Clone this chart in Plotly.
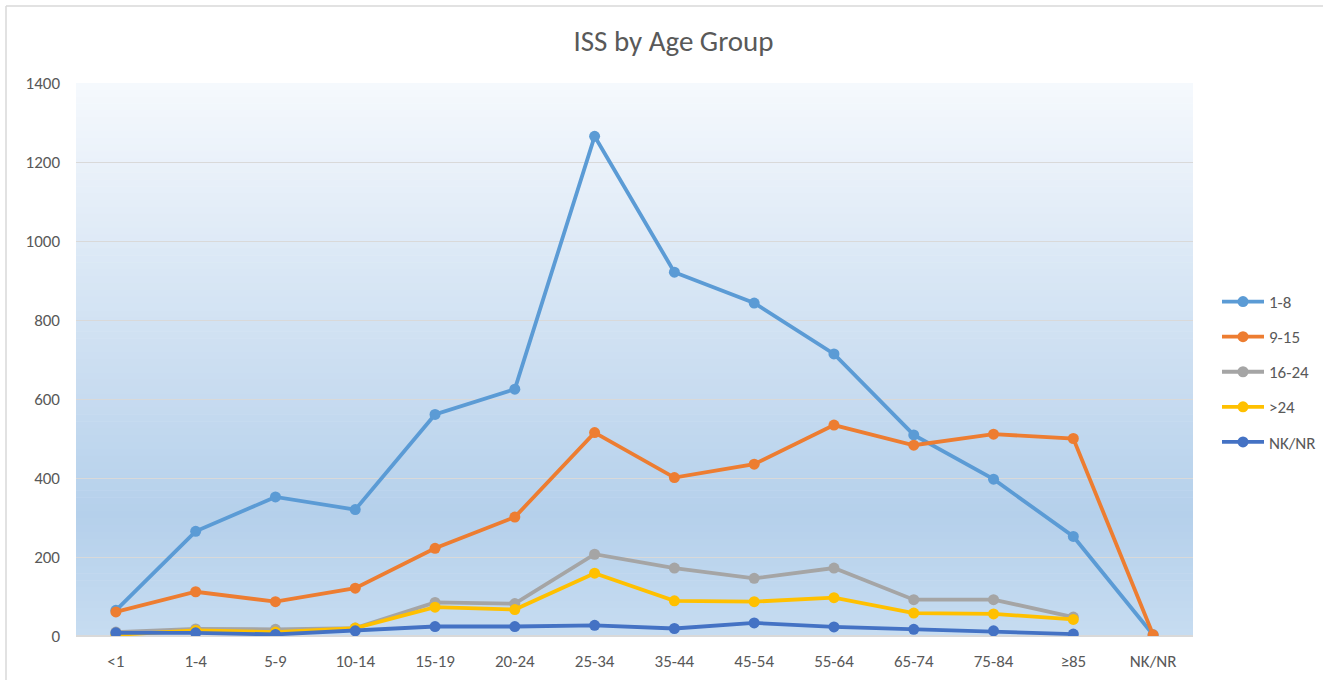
import plotly.graph_objects as go

categories = ["<1", "1-4", "5-9", "10-14", "15-19", "20-24", "25-34", "35-44",
              "45-54", "55-64", "65-74", "75-84", "≥85", "NK/NR"]

iss_1_8 = [65, 265, 352, 320, 561, 625, 1265, 921, 843, 714, 509, 397, 252, 3]
iss_9_15 = [61, 112, 87, 121, 222, 301, 515, 401, 435, 534, 483, 511, 500, 3]
iss_16_24 = [10, 18, 17, 20, 85, 82, 207, 172, 146, 172, 92, 92, 48, None]
iss_gt24 = [3, 14, 10, 20, 73, 67, 159, 89, 87, 97, 58, 56, 42, None]
iss_nknr = [8, 8, 4, 13, 24, 24, 27, 19, 33, 23, 17, 13, 5, None]

series_names = ["1-8", "9-15", "16-24", ">24", "NK/NR"]
series_values = [iss_1_8, iss_9_15, iss_16_24, iss_gt24, iss_nknr]
series_colors = ["#5B9BD5", "#ED7D31", "#A5A5A5", "#FFC000", "#4472C4"]

y_ticks = [0, 200, 400, 600, 800, 1000, 1200, 1400]

FONT = "Calibri, Carlito, Lato, sans-serif"
TXT = "#595959"

fig = go.Figure()
for name, vals, col in zip(series_names, series_values, series_colors):
    fig.add_trace(go.Scatter(
        x=categories, y=vals, name=name, mode="lines+markers",
        line=dict(color=col, width=3.8),
        marker=dict(color=col, size=11),
        legendgroup=name, connectgaps=False,
    ))

# vertical gradient background (top -> bottom)
stops = [(0.0, (246, 249, 253)), (0.78, (181, 208, 235)), (1.0, (199, 220, 241))]

def color_at(t):
    for (t0, c0), (t1, c1) in zip(stops[:-1], stops[1:]):
        if t0 <= t <= t1:
            f = (t - t0) / (t1 - t0)
            return "rgb(%d,%d,%d)" % tuple(round(a + (b - a) * f) for a, b in zip(c0, c1))
    return "rgb(%d,%d,%d)" % stops[-1][1]

shapes = []
n = 80
for k in range(n):
    top = 1 - k / n
    bot = 1 - (k + 1) / n
    t = (k + 0.5) / n
    shapes.append(dict(type="rect", xref="x domain", yref="y domain",
                       x0=0, x1=1, y0=bot, y1=min(1, top + 0.001), layer="below",
                       fillcolor=color_at(t), line=dict(width=0)))

W, H = 1323, 680
ml, mr, mt, mb = 76, 130, 83, 44
pw, ph = W - ml - mr, H - mt - mb
# outer chart border: only its left and top edges fall inside the frame
bx0 = (6 - ml) / pw
bx1 = (W - ml) / pw
by0 = -mb / ph
by1 = (H - 6 - mb) / ph
border = dict(color="#D9D9D9", width=1.5)
shapes.append(dict(type="line", xref="paper", yref="paper",
                   x0=bx0, x1=bx0, y0=by0, y1=by1, line=border, layer="below"))
shapes.append(dict(type="line", xref="paper", yref="paper",
                   x0=bx0, x1=bx1, y0=by1, y1=by1, line=border, layer="below"))

fig.update_layout(
    width=W, height=H,
    margin=dict(l=ml, r=mr, t=mt, b=mb, autoexpand=False),
    paper_bgcolor="white", plot_bgcolor="white",
    font=dict(family=FONT, color=TXT, size=17),
    title=dict(text="ISS by Age Group", x=673.5 / W, xanchor="center",
               y=1 - 41 / H, yanchor="middle",
               font=dict(size=29, color=TXT, family=FONT)),
    xaxis=dict(type="category", categoryorder="array", categoryarray=categories,
               range=[-0.5, len(categories) - 0.5], showgrid=False,
               showline=False, zeroline=False, ticks="",
               tickfont=dict(size=17, color=TXT), ticklabelstandoff=13),
    yaxis=dict(range=[0, 1400], tickvals=y_ticks, showgrid=True,
               gridcolor="#D9D9D9", gridwidth=1, zeroline=True,
               zerolinecolor="#D9D9D9", zerolinewidth=1.5, showline=False,
               tickfont=dict(size=17, color=TXT), ticks="",
               ticklabelstandoff=15),
    legend=dict(x=(1217 - ml) / pw, xanchor="left", y=(H - mb - 372) / ph,
                yanchor="middle", traceorder="grouped", tracegroupgap=10,
                font=dict(size=17, color=TXT), itemwidth=42,
                bgcolor="rgba(0,0,0,0)"),
    shapes=shapes,
    showlegend=True,
)

fig.write_html("out.html", config={"displayModeBar": False},
               post_script="document.body.style.margin='0';document.body.style.overflow='hidden';")
